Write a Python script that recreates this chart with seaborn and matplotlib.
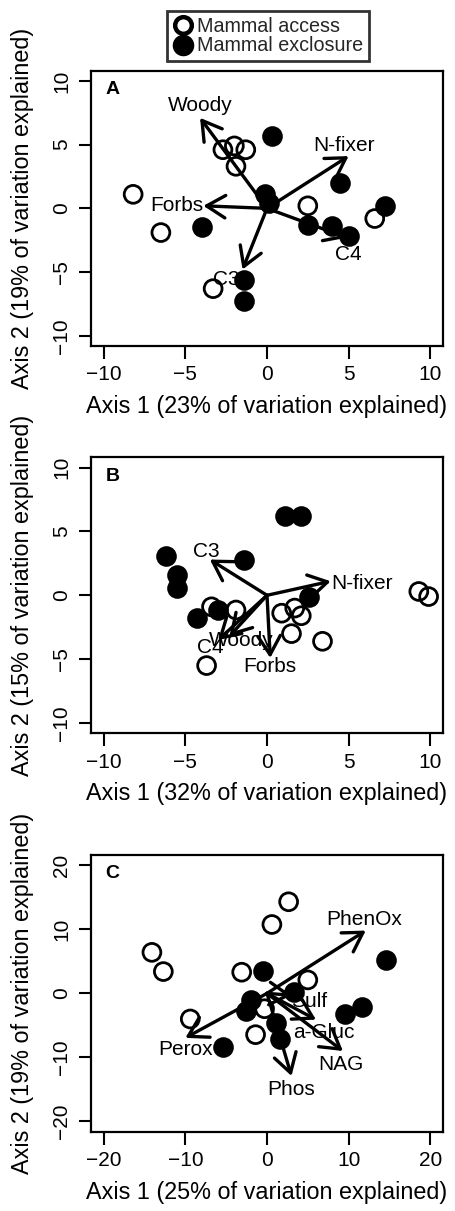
import numpy as np
import pandas as pd
import matplotlib
matplotlib.use("Agg")
import matplotlib.pyplot as plt
import seaborn as sns
from matplotlib.lines import Line2D

sns.set_theme(style="ticks")
plt.rcParams['font.family'] = ['Liberation Sans', 'DejaVu Sans']

# ---------------- Panel A ----------------
a_access_x = [-8.2, -6.5, -2.7, -2.0, -1.3, -1.9, -3.3, 2.5, 6.6]
a_access_y = [1.1, -1.9, 4.6, 4.9, 4.6, 3.3, -6.3, 0.2, -0.8]
a_excl_x = [0.3, -0.1, 0.1, 4.5, 7.2, -4.0, 2.5, 4.0, 5.0, -1.4, -1.4]
a_excl_y = [5.7, 1.1, 0.4, 2.0, 0.2, -1.5, -1.3, -1.4, -2.2, -5.6, -7.3]
a_vec_names = ["Woody", "N-fixer", "Forbs", "C4", "C3"]
a_vec_x = [-4.1, 5.0, -3.9, 4.9, -1.5]
a_vec_y = [7.1, 4.1, 0.2, -2.3, -4.8]
a_lab_x = [-4.1, 4.7, -5.5, 5.0, -2.5]
a_lab_y = [8.1, 4.9, 0.2, -3.6, -5.6]

# ---------------- Panel B ----------------
b_access_x = [-3.4, -1.9, -3.7, 0.9, 1.7, 2.1, 1.5, 3.4, 9.3, 9.9]
b_access_y = [-0.9, -1.15, -5.5, -1.4, -1.0, -1.6, -3.0, -3.6, 0.3, -0.1]
b_excl_x = [1.1, 2.1, -6.2, -5.5, -5.5, -1.4, -4.3, -3.0, 2.6]
b_excl_y = [6.2, 6.2, 3.1, 1.6, 0.55, 2.8, -1.8, -1.15, -0.1]
b_vec_names = ["C3", "N-fixer", "Forbs", "Woody", "C4"]
b_vec_x = [-3.5, 3.9, 0.2, -2.3, -3.0]
b_vec_y = [2.8, 1.1, -4.9, -3.2, -3.5]
b_lab_x = [-3.7, 5.8, 0.2, -1.6, -3.5]
b_lab_y = [3.4, 0.9, -5.6, -3.5, -4.1]

# ---------------- Panel C ----------------
c_access_x = [2.65, 0.6, -14.1, -12.7, -3.1, 5.0, -9.4, -0.3, -1.4]
c_access_y = [14.3, 10.75, 6.4, 3.4, 3.3, 2.1, -4.0, -2.4, -6.45]
c_excl_x = [-0.5, 14.6, 3.3, -1.9, -2.6, 9.5, 11.6, 1.15, 1.6, -5.4]
c_excl_y = [3.5, 5.2, 0.2, -1.0, -2.7, -3.2, -2.1, -4.6, -7.2, -8.4]
c_vec_names = ["PhenOx", "Perox", "Sulf", "a-Gluc", "NAG", "Phos"]
c_vec_x = [12.1, -10.0, 3.0, 6.0, 9.3, 3.0]
c_vec_y = [9.8, -6.95, -0.3, -4.1, -9.0, -12.9]
c_lab_x = [11.9, -10.0, 5.2, 7.0, 9.1, 3.0]
c_lab_y = [11.6, -8.8, -1.3, -6.1, -11.1, -15.0]

panel_letters = ["A", "B", "C"]
x_labels = ["Axis 1 (23% of variation explained)",
            "Axis 1 (32% of variation explained)",
            "Axis 1 (25% of variation explained)"]
y_labels = ["Axis 2 (19% of variation explained)",
            "Axis 2 (15% of variation explained)",
            "Axis 2 (19% of variation explained)"]
ticks_ab = [-10, -5, 0, 5, 10]
ticks_c = [-20, -10, 0, 10, 20]
legend_labels = ["Mammal access", "Mammal exclosure"]

W, H = 456, 1211
fig = plt.figure(figsize=(W / 100, H / 100), dpi=100)

left_px, right_px = 90.7, 443.3
boxes = [(70.7, 346.0), (457.3, 733.3), (855.0, 1131.7)]

panels = [
    (a_access_x, a_access_y, a_excl_x, a_excl_y, a_vec_names, a_vec_x, a_vec_y, a_lab_x, a_lab_y, 10.8, ticks_ab),
    (b_access_x, b_access_y, b_excl_x, b_excl_y, b_vec_names, b_vec_x, b_vec_y, b_lab_x, b_lab_y, 10.8, ticks_ab),
    (c_access_x, c_access_y, c_excl_x, c_excl_y, c_vec_names, c_vec_x, c_vec_y, c_lab_x, c_lab_y, 21.6, ticks_c),
]

FS_TICK = 15
FS_LAB = 16.8

for i, (ax_x, ax_y, ex_x, ex_y, names, vx, vy, lx, ly, lim, ticks) in enumerate(panels):
    top, bot = boxes[i]
    ax = fig.add_axes([left_px / W, 1 - bot / H, (right_px - left_px) / W, (bot - top) / H])
    df_a = pd.DataFrame({"x": ax_x, "y": ax_y})
    df_e = pd.DataFrame({"x": ex_x, "y": ex_y})
    sns.scatterplot(data=df_a, x="x", y="y", ax=ax, s=165, facecolors="none",
                    edgecolor="black", linewidth=2.0, zorder=3)
    sns.scatterplot(data=df_e, x="x", y="y", ax=ax, s=165, color="black",
                    edgecolor="black", linewidth=2.0, zorder=3)
    for n, x1, y1, tx, ty in zip(names, vx, vy, lx, ly):
        ax.annotate("", xy=(x1, y1), xytext=(0, 0),
                    arrowprops=dict(arrowstyle="->,head_length=0.75,head_width=0.45",
                                    lw=2.4, color="black", shrinkA=0, shrinkB=0,
                                    mutation_scale=18), zorder=4)
        ax.text(tx, ty, n, ha="center", va="center", fontsize=FS_TICK, color="black", zorder=5)
    ax.set_xlim(-lim, lim)
    ax.set_ylim(-lim, lim)
    ax.set_xticks(ticks)
    ax.set_yticks(ticks)
    ax.set_xticklabels([str(t).replace("-", "\u2212") for t in ticks])
    ax.set_yticklabels([str(t).replace("-", "\u2212") for t in ticks], rotation=90, va="center")
    ax.tick_params(direction="out", length=9, width=1.5, labelsize=FS_TICK, pad=5, color="black",
                   labelcolor="black")
    for sp in ax.spines.values():
        sp.set_linewidth(1.6)
        sp.set_color("black")
    ax.set_xlabel(x_labels[i], fontsize=FS_LAB, color="black")
    ax.set_ylabel(y_labels[i], fontsize=FS_LAB, color="black")
    hpx = bot - top
    wpx = right_px - left_px
    ax.xaxis.set_label_coords(0.5, -49.0 / hpx)
    ax.yaxis.set_label_coords(-57.0 / wpx, 0.5)
    ax.text(0.062, 0.932, panel_letters[i], transform=ax.transAxes, fontsize=14,
            fontweight="bold", ha="center", va="center", color="black")

handles = [Line2D([], [], marker="o", ls="", markersize=12, markerfacecolor="white",
                  markeredgecolor="black", markeredgewidth=3.2),
           Line2D([], [], marker="o", ls="", markersize=14.5, markerfacecolor="black",
                  markeredgecolor="black", markeredgewidth=1)]
leg = fig.legend(handles=handles, labels=legend_labels, loc="center",
                 bbox_to_anchor=(268 / W, 1 - 36 / H), fontsize=14.2, frameon=True,
                 fancybox=False, handletextpad=0.2, borderpad=0.3, labelspacing=0.05,
                 handlelength=1.0, borderaxespad=0)
leg.get_frame().set_edgecolor("black")
leg.get_frame().set_linewidth(2)

fig.savefig("out.png", dpi=100, facecolor="white")
